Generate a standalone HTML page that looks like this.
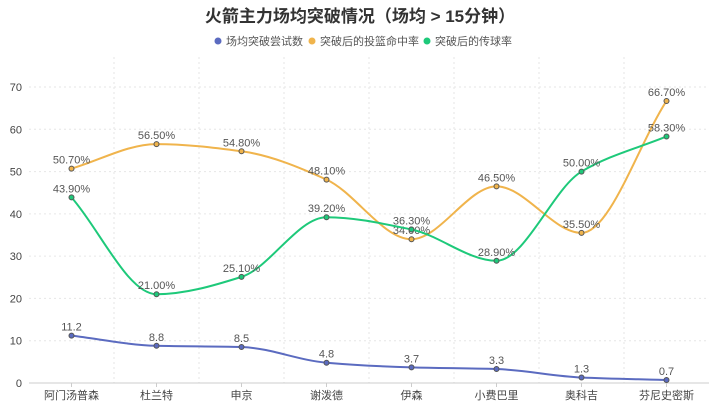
<!DOCTYPE html>
<html><head><meta charset="utf-8"><style>
body{margin:0;background:#fff;font-family:"Liberation Sans","Noto Sans CJK SC",sans-serif;}
</style></head><body>
<svg id="c" width="719" height="408" xmlns="http://www.w3.org/2000/svg" style="font-family:'Liberation Sans','Noto Sans CJK SC',sans-serif">
<text x="360" y="22" text-anchor="middle" font-size="17" font-weight="bold" fill="#333">火箭主力场均突破情况（场均 &gt; 15分钟）</text>
<g font-size="11" fill="#555">
<g><circle cx="218" cy="41" r="3.5" fill="#5b6bc0"/><text x="226" y="45">场均突破尝试数</text></g>
<g><circle cx="312" cy="41" r="3.5" fill="#f0b44c"/><text x="320" y="45">突破后的投篮命中率</text></g>
<g><circle cx="427" cy="41" r="3.5" fill="#1ec97a"/><text x="435" y="45">突破后的传球率</text></g>
</g>
<g id="grid"></g><g id="axes"></g><g id="series"></g>
</svg>
<script>
const categories=["阿门汤普森","杜兰特","申京","谢泼德","伊森","小费巴里","奥科吉","芬尼史密斯"];
const attempts=[11.2,8.8,8.5,4.8,3.7,3.3,1.3,0.7];
const fgPct=[50.7,56.5,54.8,48.1,34.0,46.5,35.5,66.7];
const passPct=[43.9,21.0,25.1,39.2,36.3,28.9,50.0,58.3];
const yTicks=[0,10,20,30,40,50,60,70];
const NS="http://www.w3.org/2000/svg";
const x0=29,x1=709,yBase=383,yTop=87,yMax=70;
const band=(x1-x0)/categories.length;
const X=i=>x0+band*(i+0.5);
const Y=v=>yBase-(v/yMax)*(yBase-yTop);
function mk(t,a,p){const e=document.createElementNS(NS,t);for(const k in a)e.setAttribute(k,a[k]);p.appendChild(e);return e;}
const grid=document.getElementById('grid'),axes=document.getElementById('axes'),ser=document.getElementById('series');
yTicks.forEach(v=>{
 if(v>0){const l=mk('line',{x1:x0,x2:x1,y1:Y(v),y2:Y(v),stroke:'#e6e6e6','stroke-dasharray':'2,3'},grid);
 }
 const t=mk('text',{x:22,y:Y(v)+4,'text-anchor':'end','font-size':11,fill:'#444'},axes);t.textContent=v;
 
});
for(let i=1;i<categories.length;i++){const l=mk('line',{x1:x0+band*i,x2:x0+band*i,y1:yTop-30,y2:yBase,stroke:'#e6e6e6','stroke-dasharray':'2,3'},grid);
 }
const ax=mk('line',{x1:x0,x2:x1,y1:yBase,y2:yBase,stroke:'#ccc'},axes);

categories.forEach((c,i)=>{const t=mk('text',{x:X(i),y:399,'text-anchor':'middle','font-size':11,fill:'#444'},axes);t.textContent=c;
 
 const k=mk('line',{x1:X(i),x2:X(i),y1:yBase,y2:yBase+4,stroke:'#ccc'},axes);
 });
function path(pts){
 const n=pts.length,h=pts[1][0]-pts[0][0],d=[],m=[];
 for(let i=0;i<n-1;i++)d.push((pts[i+1][1]-pts[i][1])/h);
 for(let i=0;i<n;i++){
  if(i===0)m.push(d[0]);else if(i===n-1)m.push(d[n-2]);
  else m.push(d[i-1]*d[i]<=0?0:2/(1/d[i-1]+1/d[i]));
 }
 let s=`M${pts[0][0]},${pts[0][1]}`;
 for(let i=0;i<n-1;i++){const a=pts[i],b=pts[i+1];
  s+=` C${a[0]+h/3},${a[1]+m[i]*h/3} ${b[0]-h/3},${b[1]-m[i+1]*h/3} ${b[0]},${b[1]}`;}
 return s;}
function draw(vals,color,name,fmt){
 const g=mk('g',{},ser);
 const pts=vals.map((v,i)=>[X(i),Y(v)]);
 const p=mk('path',{d:path(pts),fill:'none',stroke:color,'stroke-width':2},g);
 
 vals.forEach((v,i)=>{const c=mk('circle',{cx:pts[i][0],cy:pts[i][1],r:2.5,fill:color,stroke:'#555','stroke-width':1},g);
 
 const t=mk('text',{x:pts[i][0],y:pts[i][1]-5,'text-anchor':'middle','font-size':11,fill:'#555'},g);t.textContent=fmt(v);
 });
}
draw(attempts,'#5b6bc0','attempts-series',v=>v.toFixed(1));
draw(fgPct,'#f0b44c','fg-series',v=>v.toFixed(2)+'%');
draw(passPct,'#1ec97a','pass-series',v=>v.toFixed(2)+'%');
</script>
</body></html>
